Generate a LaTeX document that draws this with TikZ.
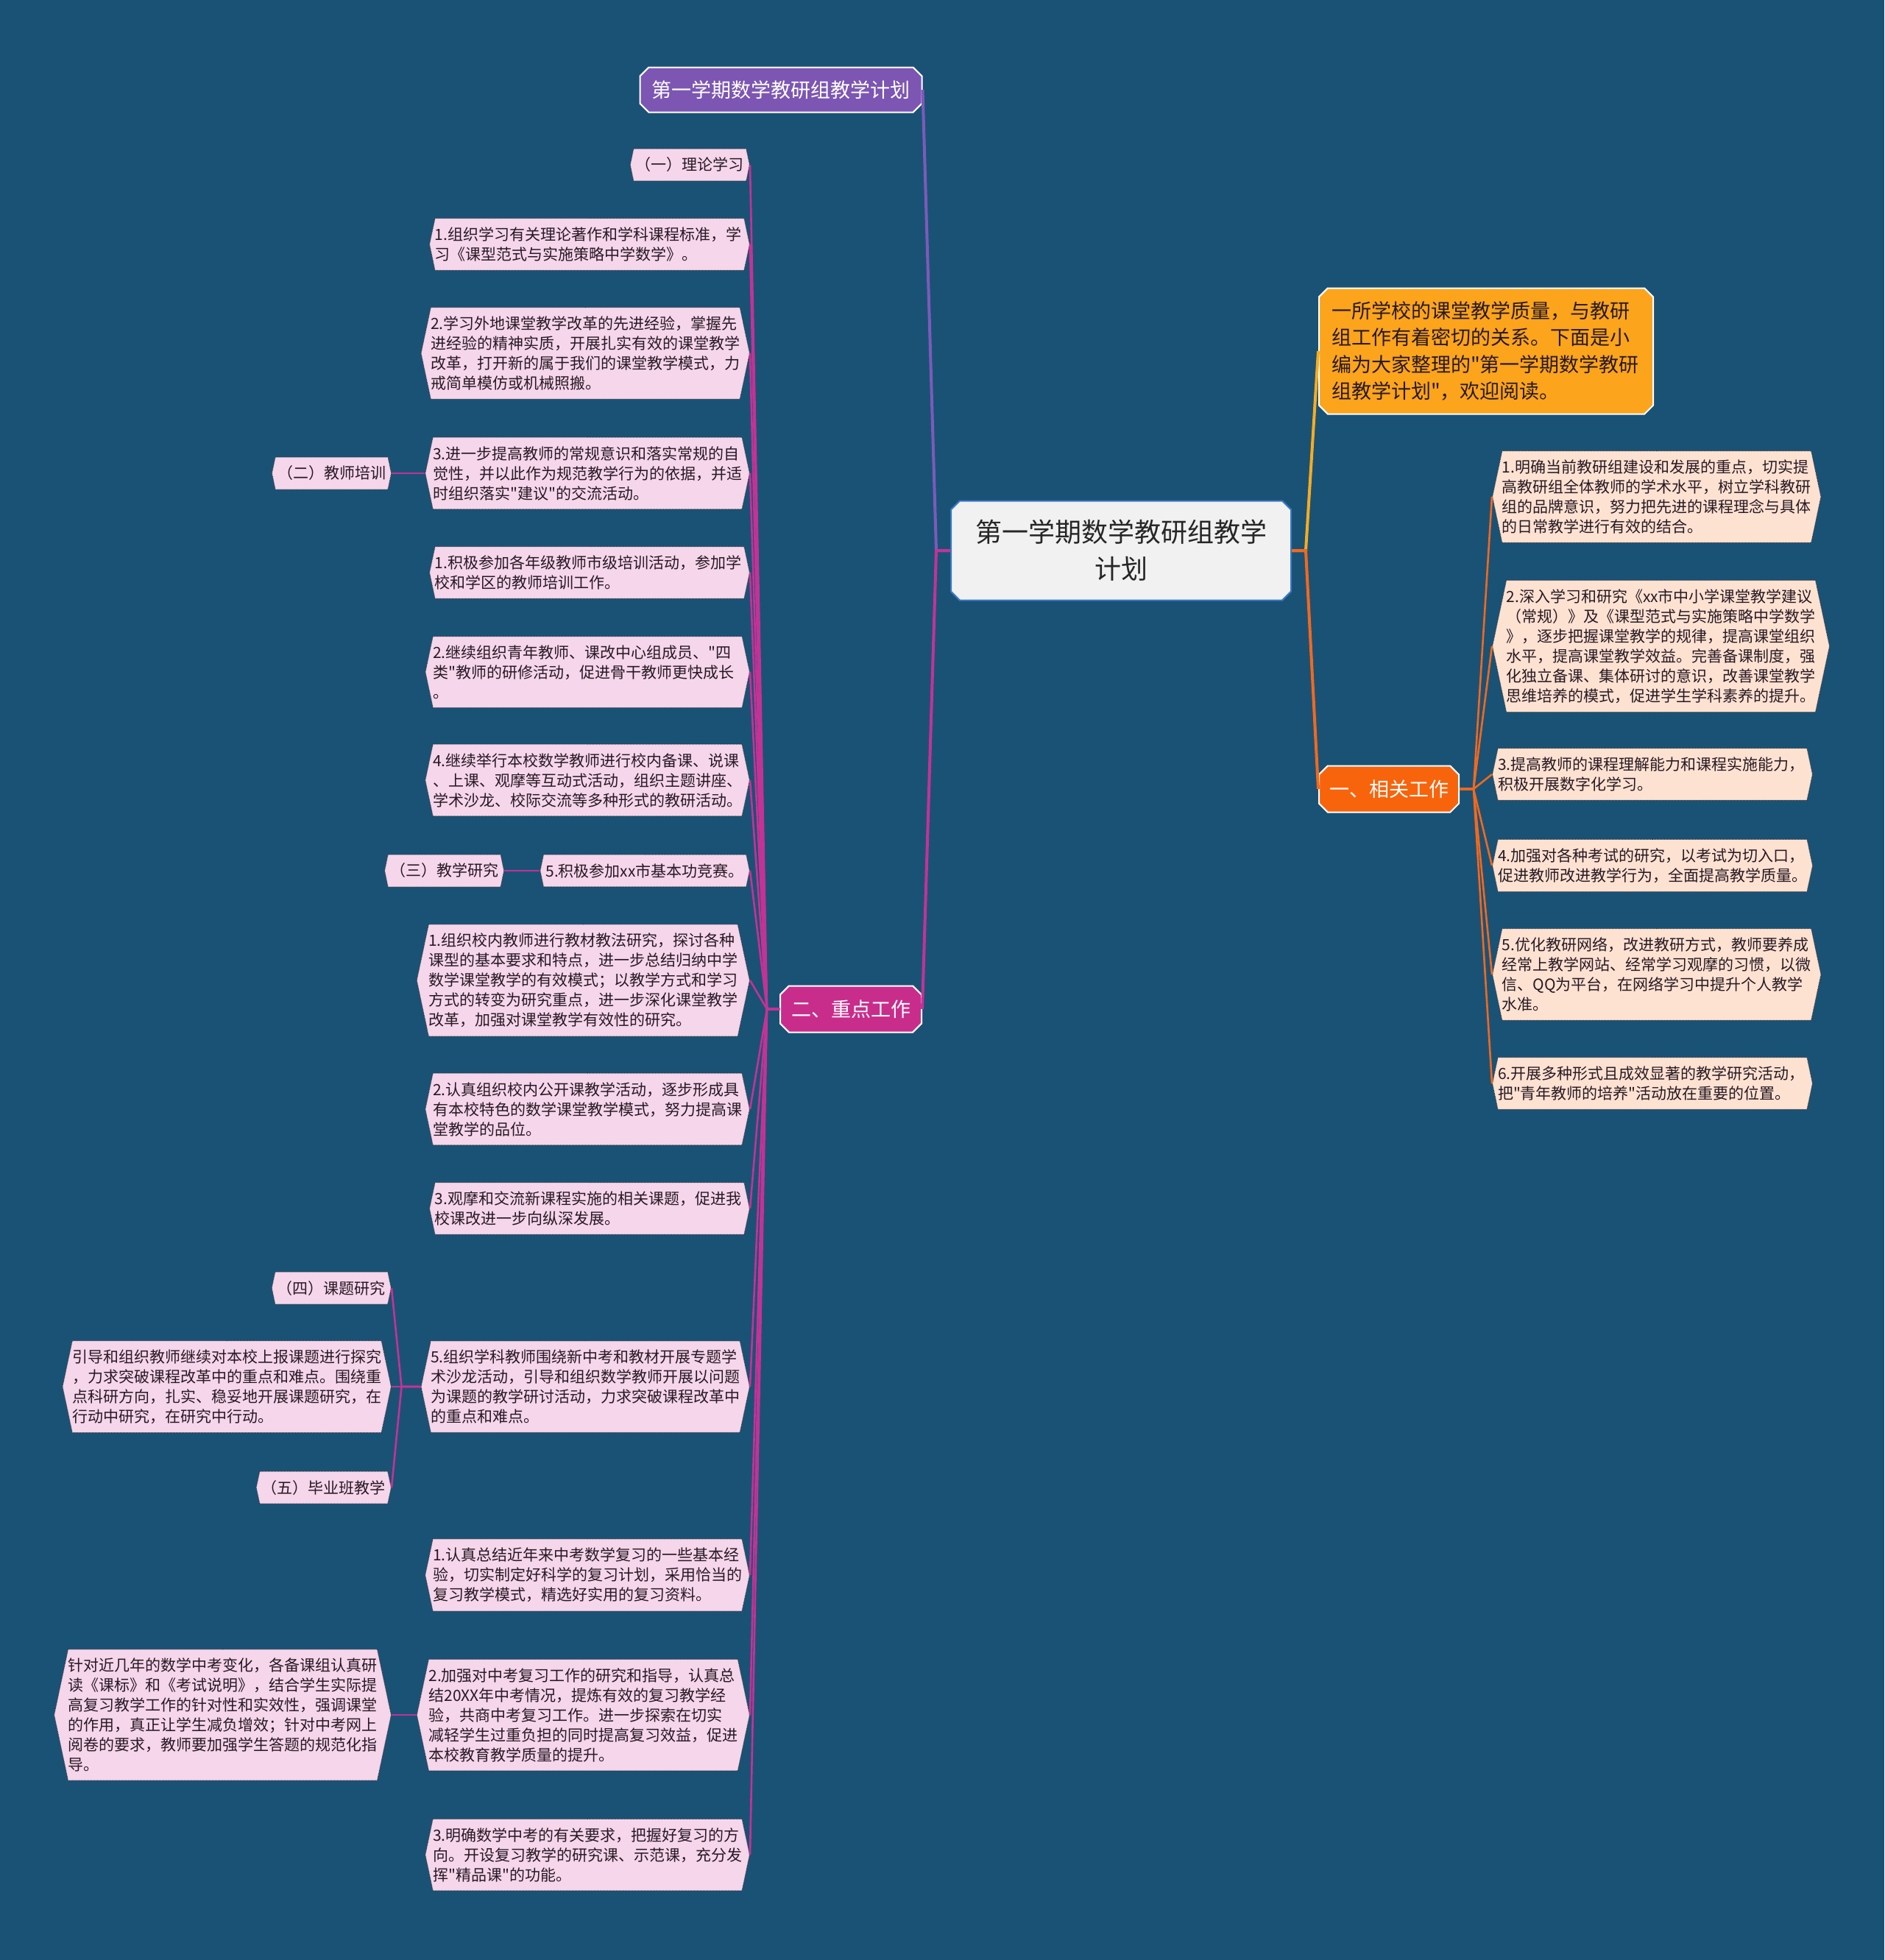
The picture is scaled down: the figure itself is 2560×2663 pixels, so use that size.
\documentclass[tikz,border=0pt]{standalone}
\usepackage{fontspec}
\newfontfamily\cjk{Noto Sans CJK SC}
\usepackage{tikz}
\usetikzlibrary{shapes.misc,shapes.symbols,positioning}
\definecolor{bgblue}{RGB}{26,82,118}
\definecolor{leafpink}{RGB}{245,214,235}
\definecolor{leafpeach}{RGB}{253,226,210}
\definecolor{leaftext}{RGB}{40,25,35}
\definecolor{dotgray}{RGB}{45,45,50}
\definecolor{titlepurple}{RGB}{124,86,178}
\definecolor{linepurple}{RGB}{125,90,185}
\definecolor{keymagenta}{RGB}{200,45,140}
\definecolor{linemagenta}{RGB}{196,50,150}
\definecolor{relorange}{RGB}{248,100,12}
\definecolor{lineorange}{RGB}{244,104,28}
\definecolor{introorange}{RGB}{251,164,28}
\definecolor{lineyellow}{RGB}{247,172,30}
\definecolor{centergray}{RGB}{241,241,241}
\definecolor{centerblue}{RGB}{58,120,196}
\tikzset{leaf/.style={shape=signal, signal to=east and west, signal pointer angle=156,
    fill=leafpink, draw=dotgray, densely dotted, line width=1pt, inner xsep=3pt, inner ysep=12pt,
    text=leaftext, font=\cjk\fontsize{21}{27}\selectfont},
  longleaf/.style={leaf, text width=420pt, align=left, inner xsep=0pt},
  mainbox/.style={chamfered rectangle, chamfered rectangle xsep=9pt, draw=white, line width=2pt,
    text=white, inner sep=0pt, font=\cjk\fontsize{27}{33}\selectfont},
  pinkline/.style={draw=linemagenta, line width=2.6pt},
  orangeline/.style={draw=lineorange, line width=2.6pt}}

\begin{document}
\begin{tikzpicture}[x=1pt, y=-1pt, node distance=45pt]
\fill[bgblue] (0,0) rectangle (2560,2663);
\useasboundingbox (0,0) rectangle (2560,2663);
% centre and main branches
\node[mainbox, fill=centergray, draw=centerblue, text=black!85, minimum width=462pt, minimum height=135pt,
  align=center, font=\cjk\fontsize{36}{50}\selectfont] (C) at (1523,748) {第一学期数学教研组教学\\计划};
\node[mainbox, fill=titlepurple, minimum width=383pt, minimum height=61pt] (T) at (1061,122) {第一学期数学教研组教学计划};
\node[mainbox, fill=introorange, text=leaftext, minimum width=454pt, minimum height=171pt, text width=420pt,
  align=left, font=\cjk\fontsize{27}{36.5}\selectfont] (I) at (2019,477)
  {一所学校的课堂教学质量，与教研\\组工作有着密切的关系。下面是小\\编为大家整理的"第一学期数学教研\\组教学计划"，欢迎阅读。};
\node[mainbox, fill=relorange, minimum width=190pt, minimum height=63pt] (M1) at (1887,1072) {一、相关工作};
\node[mainbox, fill=keymagenta, minimum width=192pt, minimum height=63pt] (M2) at (1156,1371) {二、重点工作};

% right leaves
\begin{scope}[every node/.style={longleaf, fill=leafpeach, anchor=west}]
\node (R1) at (2027,675) {1.明确当前教研组建设和发展的重点，切实提\\高教研组全体教师的学术水平，树立学科教研\\组的品牌意识，努力把先进的课程理念与具体\\的日常教学进行有效的结合。};
\node (R2) at (2027,878) {2.深入学习和研究《xx市中小学课堂教学建议\\（常规）》及《课型范式与实施策略中学数学\\》，逐步把握课堂教学的规律，提高课堂组织\\水平，提高课堂教学效益。完善备课制度，强\\化独立备课、集体研讨的意识，改善课堂教学\\思维培养的模式，促进学生学科素养的提升。};
\node (R3) at (2027,1052) {3.提高教师的课程理解能力和课程实施能力，\\积极开展数字化学习。};
\node (R4) at (2027,1176) {4.加强对各种考试的研究，以考试为切入口，\\促进教师改进教学行为，全面提高教学质量。};
\node (R5) at (2027,1324) {5.优化教研网络，改进教研方式，教师要养成\\经常上教学网站、经常学习观摩的习惯，以微\\信、QQ为平台，在网络学习中提升个人教学\\水准。};
\node (R6) at (2027,1472) {6.开展多种形式且成效显著的教学研究活动，\\把"青年教师的培养"活动放在重要的位置。};
\end{scope}

% left leaves
\node[leaf, anchor=east] (L0) at (1019,224) {（一）理论学习};
\node[leaf, anchor=east] (L7) at (1019,1183) {5.积极参加xx市基本功竞赛。};
\begin{scope}[every node/.style={longleaf, anchor=east}]
\node (L1) at (1019,332) {1.组织学习有关理论著作和学科课程标准，学\\习《课型范式与实施策略中学数学》。};
\node (L2) at (1019,480) {2.学习外地课堂教学改革的先进经验，掌握先\\进经验的精神实质，开展扎实有效的课堂教学\\改革，打开新的属于我们的课堂教学模式，力\\戒简单模仿或机械照搬。};
\node (L3) at (1019,643) {3.进一步提高教师的常规意识和落实常规的自\\觉性，并以此作为规范教学行为的依据，并适\\时组织落实"建议"的交流活动。};
\node (L4) at (1019,778) {1.积极参加各年级教师市级培训活动，参加学\\校和学区的教师培训工作。};
\node (L5) at (1019,913) {2.继续组织青年教师、课改中心组成员、"四\\类"教师的研修活动，促进骨干教师更快成长\\。};
\node (L6) at (1019,1060) {4.继续举行本校数学教师进行校内备课、说课\\、上课、观摩等互动式活动，组织主题讲座、\\学术沙龙、校际交流等多种形式的教研活动。};
\node (L8) at (1019,1332) {1.组织校内教师进行教材教法研究，探讨各种\\课型的基本要求和特点，进一步总结归纳中学\\数学课堂教学的有效模式；以教学方式和学习\\方式的转变为研究重点，进一步深化课堂教学\\改革，加强对课堂教学有效性的研究。};
\node (L9) at (1019,1507) {2.认真组织校内公开课教学活动，逐步形成具\\有本校特色的数学课堂教学模式，努力提高课\\堂教学的品位。};
\node (L10) at (1019,1642) {3.观摩和交流新课程实施的相关课题，促进我\\校课改进一步向纵深发展。};
\node (L11) at (1019,1884) {5.组织学科教师围绕新中考和教材开展专题学\\术沙龙活动，引导和组织数学教师开展以问题\\为课题的教学研讨活动，力求突破课程改革中\\的重点和难点。};
\node (L12) at (1019,2140) {1.认真总结近年来中考数学复习的一些基本经\\验，切实制定好科学的复习计划，采用恰当的\\复习教学模式，精选好实用的复习资料。};
\node (L13) at (1019,2330) {2.加强对中考复习工作的研究和指导，认真总\\结20XX年中考情况，提炼有效的复习教学经\\验，共商中考复习工作。进一步探索在切实\\减轻学生过重负担的同时提高复习效益，促进\\本校教育教学质量的提升。};
\node (L14) at (1019,2520) {3.明确数学中考的有关要求，把握好复习的方\\向。开设复习教学的研究课、示范课，充分发\\挥"精品课"的功能。};
\end{scope}

% side nodes
\node[leaf, left=of L3] (P2) {（二）教师培训};
\node[leaf, left=48pt of L7] (P3) {（三）教学研究};
\node[longleaf, anchor=east] (P4) at (532,1884) {引导和组织教师继续对本校上报课题进行探究\\，力求突破课程改革中的重点和难点。围绕重\\点科研方向，扎实、稳妥地开展课题研究，在\\行动中研究，在研究中行动。};
\node[leaf, anchor=east] (P1) at (532,1750) {（四）课题研究};
\node[leaf, anchor=east] (P5) at (532,2021) {（五）毕业班教学};
\node[longleaf, anchor=east] (P6) at (532,2330) {针对近几年的数学中考变化，各备课组认真研\\读《课标》和《考试说明》，结合学生实际提\\高复习教学工作的针对性和实效性，强调课堂\\的作用，真正让学生减负增效；针对中考网上\\阅卷的要求，教师要加强学生答题的规范化指\\导。};

% connectors
\draw[draw=linepurple, line width=4pt] (C.west) -- ++(-19,0) -- (T.east);
\draw[draw=linemagenta, line width=4pt] (C.west) -- ++(-19,0) -- (M2.east);
\draw[draw=lineyellow, line width=4pt] (C.east) -- ++(19,0) -- (I.west);
\draw[draw=lineorange, line width=4pt] (C.east) -- ++(19,0) -- (M1.west);
\foreach \i in {1,...,6}
  \draw[orangeline] (M1.east) -- ++(19,0) -- (R\i.west);
\foreach \i in {0,...,14}
  \draw[pinkline] (M2.west) -- ++(-17,0) -- (L\i.east);
\draw[pinkline] (L3.west) -- (P2.east);
\draw[pinkline] (L7.west) -- (P3.east);
\draw[pinkline] (L13.west) -- (P6.east);
\foreach \n in {P1,P4,P5}
  \draw[pinkline] (L11.west) -- ++(-26,0) -- (\n.east);
\end{tikzpicture}
\end{document}
